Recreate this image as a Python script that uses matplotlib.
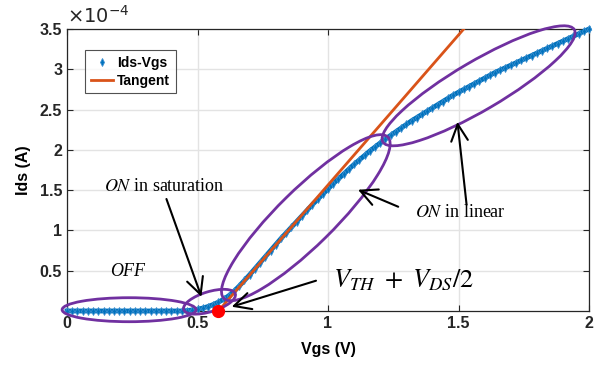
import numpy as np
import matplotlib
matplotlib.use("Agg")
import matplotlib.pyplot as plt
from matplotlib.patches import Ellipse
from matplotlib.transforms import ScaledTranslation

# measured Ids-Vgs sweep (Ids in units of 1e-4 A)
vgs = np.round(np.arange(0, 2.0001, 0.02), 2)
ids_e4 = [
    0, 0, 0, 0, 0, 0, 0, 0, 0, 0,
    0, 0, 0, 0, 0, 0, 0, 0, 0, 0,
    0, 0, 0, 0.005, 0.012, 0.022, 0.036, 0.055, 0.08, 0.11,
    0.145, 0.19, 0.245, 0.31, 0.38, 0.45, 0.525, 0.60, 0.675, 0.75,
    0.825, 0.90, 0.97, 1.04, 1.11, 1.18, 1.25, 1.32, 1.385, 1.45,
    1.515, 1.58, 1.64, 1.70, 1.76, 1.82, 1.875, 1.93, 1.985, 2.035,
    2.085, 2.135, 2.18, 2.225, 2.27, 2.315, 2.36, 2.40, 2.44, 2.48,
    2.52, 2.56, 2.60, 2.64, 2.68, 2.715, 2.75, 2.785, 2.82, 2.855,
    2.89, 2.925, 2.96, 2.99, 3.02, 3.05, 3.08, 3.11, 3.14, 3.17,
    3.20, 3.23, 3.26, 3.29, 3.32, 3.35, 3.38, 3.41, 3.44, 3.47,
    3.50,
]
ids = np.array(ids_e4) * 1e-4

# tangent line at max transconductance
tan_vgs = [0.58, 1.52]
tan_ids = [0.0, 3.5e-4]
vth_point = (0.58, 0.0)

xticks = [0, 0.5, 1, 1.5, 2]
xtick_labels = ["0", "0.5", "1", "1.5", "2"]
yticks_e4 = [0.5, 1, 1.5, 2, 2.5, 3, 3.5]
ytick_labels = ["0.5", "1", "1.5", "2", "2.5", "3", "3.5"]

# region ellipses: center (V, A), width/height in px, angle in deg
regions = [
    ((0.238, 0.016e-4), 134, 24, 0),
    ((0.546, 0.115e-4), 54, 20, 17),
    ((0.915, 1.158e-4), 230, 56, 44.5),
    ((1.577, 2.795e-4), 222, 49, 30.4),
]

blue = "#0072BD"
orange = "#D95319"
purple = "#7030A0"

plt.rcParams["font.family"] = ["Liberation Sans", "DejaVu Sans"]
plt.rcParams["mathtext.fontset"] = "stix"

fig = plt.figure(figsize=(6.01, 3.69), dpi=100)
ax = fig.add_axes([67 / 601, 58 / 369, 522 / 601, 282 / 369])

ax.plot(vgs, ids, "-", color=blue, linewidth=3.5, clip_on=False, zorder=3)
ax.plot(vgs, ids, "d", color=blue, markersize=4, markeredgewidth=0.6,
        markeredgecolor="#3d8fd0", label="Ids-Vgs", clip_on=False, zorder=3)
ax.plot(tan_vgs, tan_ids, "-", color=orange, linewidth=2, label="Tangent",
        zorder=4)

ax.set_xlim(0, 2)
ax.set_ylim(0, 3.5e-4)
ax.set_xticks(xticks)
ax.set_xticklabels(xtick_labels)
ax.set_yticks(np.array(yticks_e4) * 1e-4)
ax.set_yticklabels(ytick_labels)
ax.text(0.0, 1.008, r"$\times10^{-4}$", transform=ax.transAxes, fontsize=14,
        ha="left", va="bottom", math_fontfamily="dejavusans", color="#262626")

ax.grid(True, color="#e3e3e3", linewidth=1)
ax.set_axisbelow(True)
ax.tick_params(direction="in", top=True, right=True, length=4,
               labelsize=11.5, colors="#262626")
for lbl in ax.get_xticklabels() + ax.get_yticklabels():
    lbl.set_fontweight("bold")
for s in ax.spines.values():
    s.set_color("#262626")
    s.set_linewidth(0.9)

ax.set_xlabel("Vgs (V)", fontsize=11.5, fontweight="bold", labelpad=8)
ax.set_ylabel("Ids (A)", fontsize=11.5, fontweight="bold", labelpad=6)

for (cx, cy), w, h, ang in regions:
    e = Ellipse((0, 0), w / 100, h / 100, angle=ang, fill=False,
                edgecolor=purple, linewidth=2, clip_on=False, zorder=5,
                transform=fig.dpi_scale_trans + ScaledTranslation(cx, cy, ax.transData))
    ax.add_patch(e)

ax.plot(*vth_point, "o", color="red", markersize=8.5, clip_on=False, zorder=6)

serif = ["Liberation Serif", "DejaVu Serif"]
ax.text(0.231, 0.49e-4, "OFF", fontsize=13, style="italic", family=serif,
        ha="center", va="center")
ax.text(0.373, 1.54e-4, r"$\mathit{ON}$ in saturation", fontsize=13,
        family=serif, ha="center", va="center")
ax.text(1.508, 1.22e-4, r"$\mathit{ON}$ in linear", fontsize=13,
        family=serif, ha="center", va="center")
ax.text(1.288, 0.38e-4, r"$V_{TH}\ +\ V_{DS}/2$", fontsize=19,
        ha="center", va="center")

arrow = dict(arrowstyle="->, head_length=0.6, head_width=0.3", color="black",
             linewidth=1.5, mutation_scale=20, shrinkA=0, shrinkB=0)
arrows = [
    ((0.381, 1.39e-4), (0.515, 0.177e-4)),
    ((1.269, 1.294e-4), (1.115, 1.505e-4)),
    ((1.531, 1.319e-4), (1.496, 2.347e-4)),
    ((0.954, 0.376e-4), (0.631, 0.053e-4)),
]
for tail, tip in arrows:
    ax.annotate("", xy=tip, xytext=tail, arrowprops=arrow, zorder=7)

leg = ax.legend(loc="upper left", bbox_to_anchor=(0.035, 0.925),
                prop={"weight": "bold", "size": 10}, fancybox=False,
                edgecolor="#262626", handlelength=1.6, borderpad=0.4,
                labelspacing=0.3, handletextpad=0.3, borderaxespad=0)
leg.get_frame().set_linewidth(0.8)

fig.savefig("out.png", dpi=100)
